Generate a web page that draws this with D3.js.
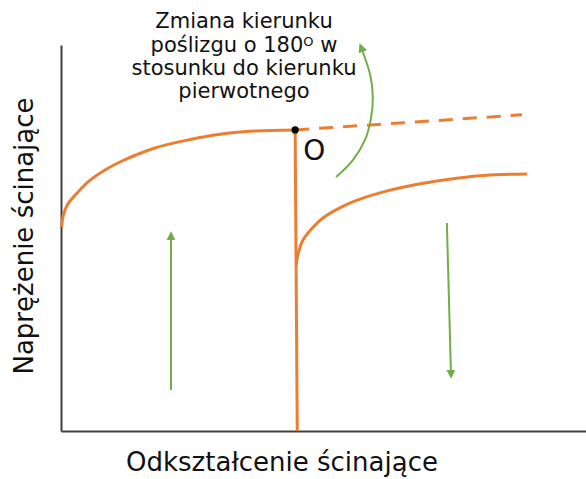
<!DOCTYPE html>
<html>
<head>
<meta charset="utf-8">
<script src="https://cdn.jsdelivr.net/npm/d3@7/dist/d3.min.js"></script>
<style>
  html, body { margin: 0; padding: 0; background: #fff; }
  svg { display: block; }
  text { font-family: "DejaVu Sans", Verdana, sans-serif; fill: #111; }
</style>
</head>
<body>
<svg id="chart" width="586" height="479"></svg>
<script>
// Initial loading curve: strain / stress (arbitrary units)
const loadStrain  = [0.13, 0.44, 1.39, 3.30, 5.20, 8.38, 11.62, 17.9, 24.19, 30.67, 36.95, 44.6];
const loadStress  = [52.85, 55.96, 58.99, 62.00, 64.59, 67.62, 69.95, 73.32, 75.39, 76.94, 77.72, 78.0];

// Unloading drop at the reversal point O
const dropStrain  = [44.6, 45.0];
const dropStress  = [78.0, 0];

// Continuation if the slip direction had not been reversed
const contStrain  = [44.6, 87.8];
const contStress  = [78.0, 81.9];

// Reloading curve in the reversed direction
const reloadStrain = [44.8, 45.2, 46.1, 48.0, 49.9, 53.1, 56.4, 62.7, 69.0, 75.4, 81.7, 88.8];
const reloadStress = [43.0, 46.1, 49.5, 52.8, 55.2, 57.8, 59.8, 62.4, 64.2, 65.5, 66.3, 66.6];

// Direction arrows
const upArrowStrain   = [20.95, 20.95];
const upArrowStress   = [10.6, 51.3];
const downArrowStrain = [73.5, 74.3];
const downArrowStress = [53.9, 14.0];
const bendArrowStrain = [52.4, 55.6, 57.9, 59.0, 59.4, 58.9, 57.0];
const bendArrowStress = [65.8, 70.2, 75.4, 80.6, 86.5, 92.2, 100];

// Reversal point
const pointO = { strain: 44.6, stress: 78.0, label: "O" };

const noteLines = ["Zmiana kierunku", "poślizgu o 180", "stosunku do kierunku", "pierwotnego"];
const xTitle = "Odkształcenie ścinające";
const yTitle = "Naprężenie ścinające";

const ORANGE = "#ED7D31", GREEN = "#70AD47", AXIS = "#404040";

const svg = d3.select("#chart");
const x = d3.scaleLinear().domain([0, 100]).range([61, 586]);
const y = d3.scaleLinear().domain([0, 100]).range([431, 45]);

const zip = (xs, ys) => xs.map((v, i) => [v, ys[i]]);
const line = d3.line().x(d => x(d[0])).y(d => y(d[1]));
const smooth = d3.line().x(d => x(d[0])).y(d => y(d[1])).curve(d3.curveCatmullRom.alpha(0.5));

// arrowheads
const defs = svg.append("defs");
defs.append("marker")
  .attr("id", "arrowG")
  .attr("viewBox", "0 0 10 10")
  .attr("refX", 8).attr("refY", 5)
  .attr("markerWidth", 4.5).attr("markerHeight", 4.5)
  .attr("markerUnits", "strokeWidth")
  .attr("orient", "auto")
  .append("path").attr("d", "M0,0 L10,5 L0,10 Z").attr("fill", GREEN);

// axes (plain lines, no ticks)
svg.append("g")
  .attr("transform", `translate(${x(0)},0)`)
  .call(d3.axisLeft(y).tickValues([]).tickSizeOuter(0))
  .call(g => g.select(".domain").attr("stroke", AXIS).attr("stroke-width", 2));
svg.append("g")
  .attr("transform", `translate(0,${y(0)})`)
  .call(d3.axisBottom(x).tickValues([]).tickSizeOuter(0))
  .call(g => g.select(".domain").attr("stroke", AXIS).attr("stroke-width", 2));

// orange curves
const orange = sel => sel.attr("fill", "none").attr("stroke", ORANGE).attr("stroke-width", 3);
svg.append("path").attr("d", smooth(zip(loadStrain, loadStress))).call(orange);
svg.append("path").attr("d", line(zip(dropStrain, dropStress))).call(orange);
svg.append("path").attr("d", line(zip(contStrain, contStress))).call(orange)
  .attr("stroke-dasharray", "14 10");
svg.append("path").attr("d", smooth(zip(reloadStrain, reloadStress))).call(orange);

// green arrows
const green = sel => sel.attr("fill", "none").attr("stroke", GREEN).attr("stroke-width", 2)
  .attr("marker-end", "url(#arrowG)");
svg.append("path").attr("d", line(zip(upArrowStrain, upArrowStress))).call(green);
svg.append("path").attr("d", line(zip(downArrowStrain, downArrowStress))).call(green);
svg.append("path").attr("d", smooth(zip(bendArrowStrain, bendArrowStress))).call(green);

// reversal point
svg.append("circle").attr("cx", x(pointO.strain)).attr("cy", y(pointO.stress))
  .attr("r", 3.6).attr("fill", "#000");
svg.append("text").attr("x", x(pointO.strain) + 8).attr("y", y(pointO.stress) + 30)
  .attr("font-size", 28).text(pointO.label);

// annotation
const note = svg.append("text").attr("text-anchor", "middle").attr("font-size", 21);
const baselines = [28, 51.5, 75, 98];
noteLines.forEach((t, i) => {
  const ts = note.append("tspan").attr("x", 244).attr("y", baselines[i]).text(t);
  if (i === 1) {
    ts.append("tspan").attr("font-size", 13).attr("dy", -6).text("O");
    ts.append("tspan").attr("dy", 6).text(" w");
  }
});

// axis titles
svg.append("text").attr("x", 282).attr("y", 471).attr("text-anchor", "middle")
  .attr("font-size", 26).text(xTitle);
svg.append("text").attr("transform", "translate(33,236) rotate(-90)")
  .attr("text-anchor", "middle").attr("font-size", 26).text(yTitle);
</script>
</body>
</html>
